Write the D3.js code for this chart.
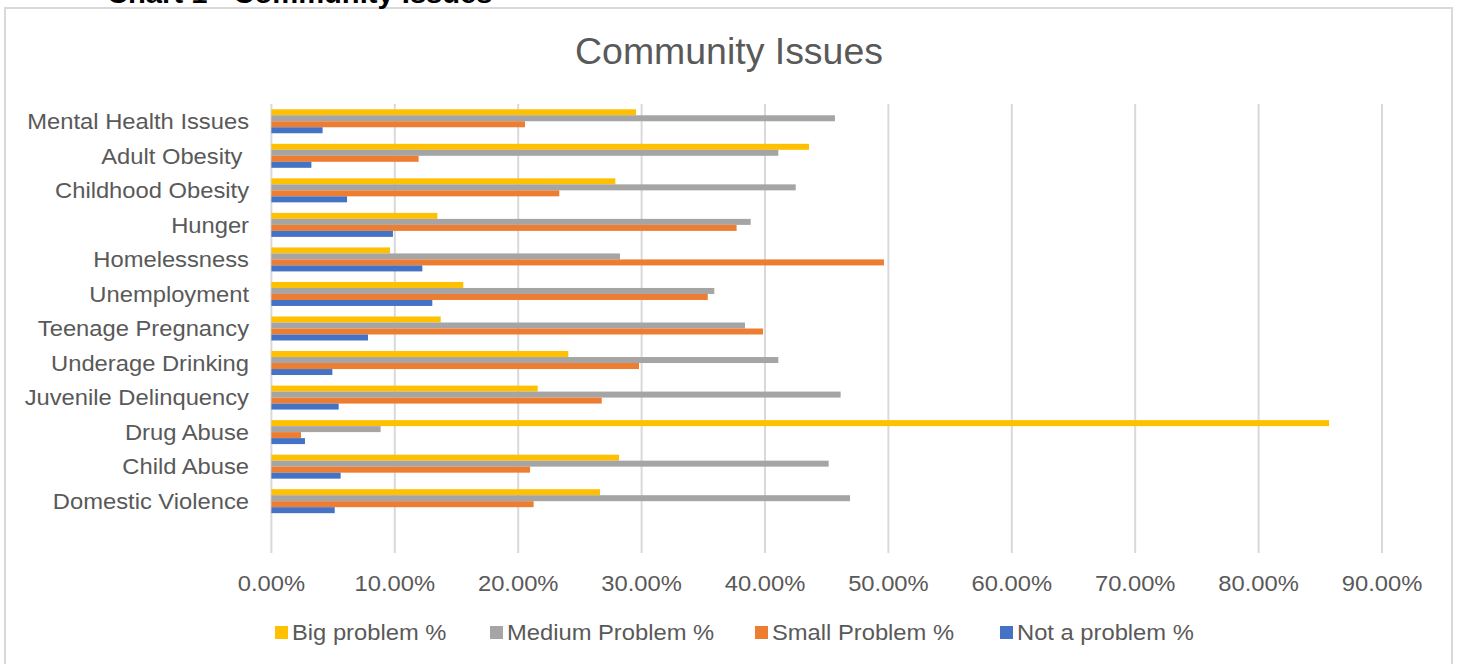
<!DOCTYPE html>
<html>
<head>
<meta charset="utf-8">
<script src="https://cdn.jsdelivr.net/npm/d3@7"></script>
<style>
  body { margin: 0; background: #fff; }
  text { font-family: "Liberation Sans", Arial, sans-serif; }
</style>
</head>
<body>
<div id="chart"></div>
<script>
// categories, top to bottom as shown
const categories = ["Mental Health Issues", "Adult Obesity ", "Childhood Obesity", "Hunger",
  "Homelessness", "Unemployment", "Teenage Pregnancy", "Underage Drinking",
  "Juvenile Delinquency", "Drug Abuse", "Child Abuse", "Domestic Violence"];

const seriesNames = ["Big problem %", "Medium Problem %", "Small Problem %", "Not a problem %"];
const seriesColors = ["#FFC000", "#A5A5A5", "#ED7D31", "#4472C4"];

// values in percent, same order as categories
const bigProblem    = [29.55, 43.57, 27.87, 13.45, 9.61, 15.55, 13.72, 24.06, 21.58, 85.71, 28.17, 26.63];
const mediumProblem = [45.67, 41.08, 42.49, 38.84, 28.25, 35.89, 38.38, 41.08, 46.13, 8.85, 45.16, 46.89];
const smallProblem  = [20.55, 11.93, 23.33, 37.70, 49.64, 35.36, 39.84, 29.79, 26.77, 2.40, 20.96, 21.25];
const notAProblem   = [4.15, 3.24, 6.13, 9.85, 12.23, 13.04, 7.83, 4.94, 5.45, 2.72, 5.61, 5.13];

const xTicks = [0, 10, 20, 30, 40, 50, 60, 70, 80, 90];

const seriesValues = [bigProblem, mediumProblem, smallProblem, notAProblem];

let width = 1460, height = 664;
let plot = {left: 271.4, right: 1382, top: 104, bottom: 553};
// the source picture is a bit stretched sideways
const stretch = 1.08;

let svg = d3.select("#chart")
    .append("svg")
        .attr("width", width)
        .attr("height", height);

// outer chart border
svg.append("rect")
    .attr("x", 5).attr("y", 8)
    .attr("width", 1447).attr("height", 700)
    .attr("fill", "#fff")
    .attr("stroke", "#d9d9d9")
    .attr("stroke-width", 2);

// caption above the chart (cut off at the top in the source)
svg.append("text")
    .attr("transform", `translate(107, 3) scale(${stretch}, 1)`)
    .attr("font-weight", "bold")
    .attr("font-size", 27)
    .attr("fill", "#000")
    .text("Chart 1 - Community Issues");

// chart title
svg.append("text")
    .attr("transform", `translate(729, 64) scale(1.04, 1)`)
    .attr("text-anchor", "middle")
    .attr("font-size", 36)
    .attr("fill", "#595959")
    .text("Community Issues");

const x = d3.scaleLinear()
    .domain([0, 90])
    .range([plot.left, plot.right]);

// blank slot at the bottom, as in the source sheet
const y = d3.scaleBand()
    .domain([...categories, ""])
    .range([plot.top, plot.bottom]);

const ySub = d3.scaleBand()
    .domain(seriesNames)
    .range([0, y.bandwidth()])
    .paddingOuter(0.88);

// gridlines
svg.append("g")
    .selectAll("line")
    .data(xTicks)
    .join("line")
        .attr("x1", d => x(d)).attr("x2", d => x(d))
        .attr("y1", plot.top).attr("y2", plot.bottom)
        .attr("stroke", "#d9d9d9")
        .attr("stroke-width", 2);

// tick labels
svg.append("g")
    .selectAll("text")
    .data(xTicks)
    .join("text")
        .attr("transform", d => `translate(${x(d)}, 591) scale(${stretch}, 1)`)
        .attr("text-anchor", "middle")
        .attr("font-size", 22)
        .attr("fill", "#595959")
        .text(d => d3.format(".2f")(d) + "%");

// category labels
svg.append("g")
    .selectAll("text")
    .data(categories)
    .join("text")
        .attr("transform", d => `translate(249, ${y(d) + y.bandwidth() / 2}) scale(${stretch}, 1)`)
        .attr("dy", "0.35em")
        .attr("text-anchor", "end")
        .attr("font-size", 22)
        .attr("fill", "#595959")
        .style("white-space", "pre")
        .text(d => d);

// bars
seriesNames.forEach((name, i) => {
    svg.append("g")
        .selectAll("rect")
        .data(categories.map((c, j) => ({cat: c, value: seriesValues[i][j]})))
        .join("rect")
            .attr("x", x(0))
            .attr("y", d => y(d.cat) + ySub(name))
            .attr("width", d => x(d.value) - x(0))
            .attr("height", ySub.bandwidth())
            .attr("fill", seriesColors[i]);
});

// legend
const legendX = [275, 490, 755, 1000];
const legend = svg.append("g")
    .selectAll("g")
    .data(seriesNames)
    .join("g")
        .attr("transform", (d, i) => `translate(${legendX[i]}, 626)`);

legend.append("rect")
    .attr("width", 13).attr("height", 13)
    .attr("fill", (d, i) => seriesColors[i]);

legend.append("text")
    .attr("transform", `translate(17, 6.5) scale(${stretch}, 1)`)
    .attr("dy", "0.35em")
    .attr("font-size", 22)
    .attr("fill", "#595959")
    .text(d => d);
</script>
</body>
</html>
